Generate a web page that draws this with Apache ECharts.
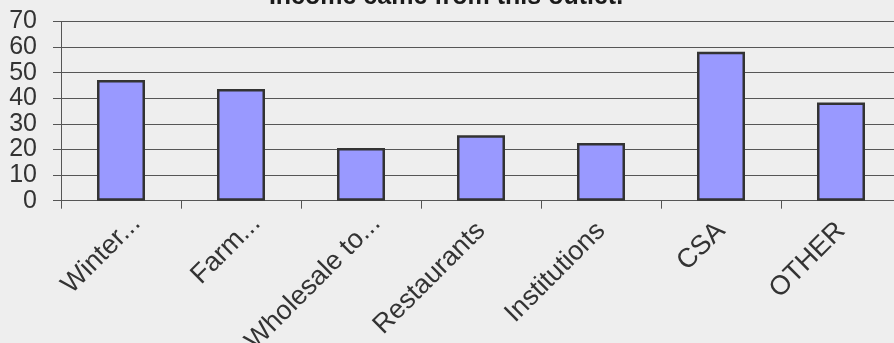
<!DOCTYPE html>
<html>
<head>
<meta charset="utf-8">
<script src="https://cdn.jsdelivr.net/npm/echarts@6/dist/echarts.min.js"></script>
<style>
  html, body { margin: 0; padding: 0; background: #eeeeee; }
  #chart { width: 894px; height: 343px; }
</style>
</head>
<body>
<div id="chart"></div>
<script>
// Sales outlets and the share of growers whose income came from each one
const categories = ['Winter...', 'Farm...', 'Wholesale to...', 'Restaurants', 'Institutions', 'CSA', 'OTHER'];
const values = [47.1, 43.6, 20.6, 25.6, 22.5, 58.2, 38.4];
const yTicks = { min: 0, max: 70, interval: 10 };
const titleText = 'Income came from this outlet.';

const FONT = 'Liberation Sans, Arial, sans-serif';

// Shortened names sit a little further along their slant than full names
const categoryItems = categories.map(function (name) {
  const shortened = name.endsWith('...');
  return shortened
    ? { value: name, textStyle: { padding: [-8, -16, 0, 0], verticalAlign: 'top' } }
    : { value: name };
});

const chart = echarts.init(document.getElementById('chart'), null, { renderer: 'canvas' });

chart.setOption({
  backgroundColor: '#eeeeee',
  animation: false,
  title: {
    text: titleText,
    left: 441,
    textAlign: 'center',
    top: -20,
    textStyle: {
      fontFamily: FONT,
      fontSize: 25,
      fontWeight: 'bold',
      color: '#1a1a1a'
    }
  },
  grid: {
    left: 61,
    width: 840,
    top: 21.5,
    height: 179.2,
    containLabel: false,
    outerBoundsMode: 'none'
  },
  xAxis: {
    type: 'category',
    data: categoryItems,
    axisLine: { show: true, lineStyle: { color: '#555', width: 1 } },
    axisTick: { show: true, length: 8, alignWithLabel: false, lineStyle: { color: '#555' } },
    axisLabel: {
      rotate: 45,
      interval: 0,
      margin: 26,
      hideOverlap: false,
      fontFamily: FONT,
      fontSize: 27,
      color: '#333'
    }
  },
  yAxis: {
    type: 'value',
    min: yTicks.min,
    max: yTicks.max,
    interval: yTicks.interval,
    axisLine: { show: true, lineStyle: { color: '#555', width: 1 } },
    axisTick: { show: true, length: 8, lineStyle: { color: '#555' } },
    splitLine: { show: true, lineStyle: { color: '#555', width: 1 } },
    axisLabel: {
      margin: 24,
      showMinLabel: true,
      showMaxLabel: true,
      fontFamily: FONT,
      fontSize: 25,
      color: '#333'
    }
  },
  series: [{
    type: 'bar',
    data: values,
    barWidth: '40%',
    itemStyle: {
      color: '#9999ff',
      borderColor: '#333333',
      borderWidth: 2.5
    }
  }]
});
</script>
</body>
</html>
